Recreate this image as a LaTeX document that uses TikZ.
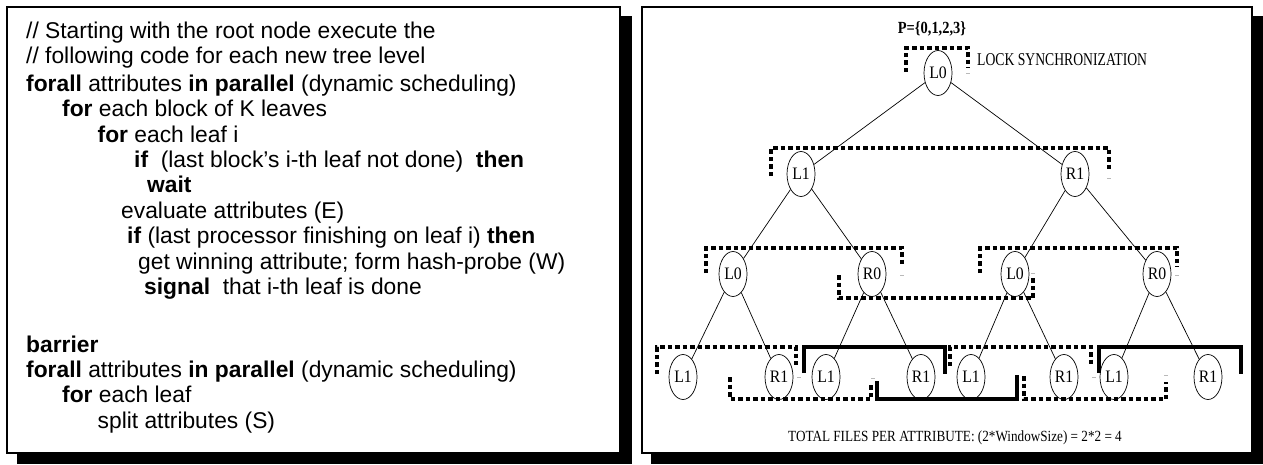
\documentclass[tikz,border=0pt]{standalone}
\usepackage{fontspec}
\setmainfont{Liberation Serif}
\newfontfamily\codefont{Liberation Sans}
\newfontfamily\treefont[FakeStretch=0.85]{Liberation Serif}
\newfontfamily\labfont[FakeStretch=0.9]{Liberation Serif}
\newfontfamily\lockfont[FakeStretch=0.76]{Liberation Serif}
\usetikzlibrary{shapes.geometric}
\tikzset{
  codeline/.style={anchor=base west, inner sep=0pt, font=\codefont\fontsize{22.8}{26}\selectfont},
  tnode/.style={draw, ellipse, line width=0.7pt, minimum width=28pt, minimum height=45pt, inner sep=0pt, font=\labfont\fontsize{17.5}{17.5}\selectfont},
  treeedge/.style={line width=0.7pt},
  dotbr/.style={line width=3.5pt, dash pattern=on 4.5pt off 3pt},
  solbr/.style={line width=4.5pt},
  framebox/.style={line width=2pt, fill=white},
  shadowbox/.style={fill=black},
  ticklet/.style={gray!55, line width=1pt},
  txt/.style={inner sep=0pt}
}
\begin{document}
\begin{tikzpicture}[x=1pt,y=-1pt]
\useasboundingbox (0,0) rectangle (1263,464);
% panels
\fill[shadowbox] (17,16) rectangle (632,464);
\draw[framebox] (7,7) rectangle (620,453);
\fill[shadowbox] (651,16) rectangle (1263,464);
\draw[framebox] (642,7) rectangle (1252,453);

% code text
\node[codeline] (t1) at (26,38) {// Starting with the root node execute the};
\node[codeline] (t2) at (26,63.4) {// following code for each new tree level};
\node[codeline] (t3) at (26,91.3) {\textbf{forall} attributes \textbf{in parallel} (dynamic scheduling)};
\node[codeline] (t4) at (62,116.7) {\textbf{for} each block of K leaves};
\node[codeline] (t5) at (97.5,142.1) {\textbf{for} each leaf i};
\node[codeline] (t6) at (134,167.5) {\textbf{if}\ \ (last block’s i-th leaf not done)\ \ \textbf{then}};
\node[codeline] (t7) at (147,192.9) {\textbf{wait}};
\node[codeline] (t8) at (121,218.3) {evaluate attributes (E)};
\node[codeline] (t9) at (127,243.7) {\textbf{if} (last processor finishing on leaf i) \textbf{then}};
\node[codeline] (t10) at (138,269.1) {get winning attribute; form hash-probe (W)};
\node[codeline] (t11) at (144,294.5) {\textbf{signal}\ \ that i-th leaf is done};
\node[codeline] (t12) at (26,352) {\textbf{barrier}};
\node[codeline] (t13) at (26,377.4) {\textbf{forall} attributes \textbf{in parallel} (dynamic scheduling)};
\node[codeline] (t14) at (62,402.8) {\textbf{for} each leaf};
\node[codeline] (t15) at (97.5,428.2) {split attributes (S)};

% tree nodes
\node[tnode] (r) at (938,73) {L0};
\node[tnode] (a1) at (801,174) {L1};
\node[tnode] (a2) at (1075,174) {R1};
\node[tnode] (b1) at (733,274) {L0};
\node[tnode] (b2) at (872,274) {R0};
\node[tnode] (b3) at (1015,274) {L0};
\node[tnode] (b4) at (1157,274) {R0};
\node[tnode] (c1) at (683,377) {L1};
\node[tnode] (c2) at (779,377) {R1};
\node[tnode] (c3) at (826,377) {L1};
\node[tnode] (c4) at (921,377) {R1};
\node[tnode] (c5) at (971,377) {L1};
\node[tnode] (c6) at (1064,377) {R1};
\node[tnode] (c7) at (1114,377) {L1};
\node[tnode] (c8) at (1208,377) {R1};

% tree edges
\draw[treeedge] (r) -- (a1);
\draw[treeedge] (r) -- (a2);
\draw[treeedge] (a1) -- (b1);
\draw[treeedge] (a1) -- (b2);
\draw[treeedge] (a2) -- (b3);
\draw[treeedge] (a2) -- (b4);
\draw[treeedge] (b1) -- (c1);
\draw[treeedge] (b1) -- (c2);
\draw[treeedge] (b2) -- (c3);
\draw[treeedge] (b2) -- (c4);
\draw[treeedge] (b3) -- (c5);
\draw[treeedge] (b3) -- (c6);
\draw[treeedge] (b4) -- (c7);
\draw[treeedge] (b4) -- (c8);

% labels
\node[txt, font=\treefont\bfseries\fontsize{17}{17}\selectfont] (p) at (932,29) {P=\{0,1,2,3\}};
\node[txt, anchor=west, font=\lockfont\fontsize{18}{18}\selectfont] (lock) at (977,60) {LOCK SYNCHRONIZATION};
\node[txt, font=\treefont\fontsize{15.5}{15.5}\selectfont] (total) at (955,438) {TOTAL FILES PER ATTRIBUTE: (2*WindowSize) = 2*2 = 4};

% synchronization brackets
\draw[dotbr] (906,72) -- (906,48) -- (968,48) -- (968,68);
\draw[dotbr] (771,176) -- (771,148) -- (1109,148) -- (1109,170);
\draw[dotbr] (706,273) -- (706,248) -- (902,248) -- (902,267);
\draw[dotbr] (980,273) -- (980,248) -- (1177,248) -- (1177,267);
\draw[dotbr] (839,275) -- (839,298) -- (1033,298) -- (1033,276);
\draw[dotbr] (657,374) -- (657,347) -- (796,347) -- (796,365);
\draw[dotbr] (730,377) -- (730,399) -- (871,399) -- (871,382);
\draw[solbr] (804,373) -- (804,347) -- (945,347) -- (945,374);
\draw[solbr] (877,381) -- (877,399) -- (1017,399) -- (1017,375);
\draw[dotbr] (950,366) -- (950,347) -- (1091,347) -- (1091,366);
\draw[dotbr] (1024,376) -- (1024,399) -- (1166,399) -- (1166,382);
\draw[solbr] (1099,373) -- (1099,347) -- (1241,347) -- (1241,374);

% faint ticks
\draw[ticklet] (966,73) -- (970,73);
\draw[ticklet] (1107,178) -- (1111,178);
\draw[ticklet] (900,275) -- (904,275);
\draw[ticklet] (1031,273) -- (1035,273);
\draw[ticklet] (1175,275) -- (1179,275);
\draw[ticklet] (797,377) -- (801,377);
\draw[ticklet] (871,378) -- (875,378);
\draw[ticklet] (1092,377) -- (1096,377);
\draw[ticklet] (1164,375) -- (1168,375);
\end{tikzpicture}
\end{document}
